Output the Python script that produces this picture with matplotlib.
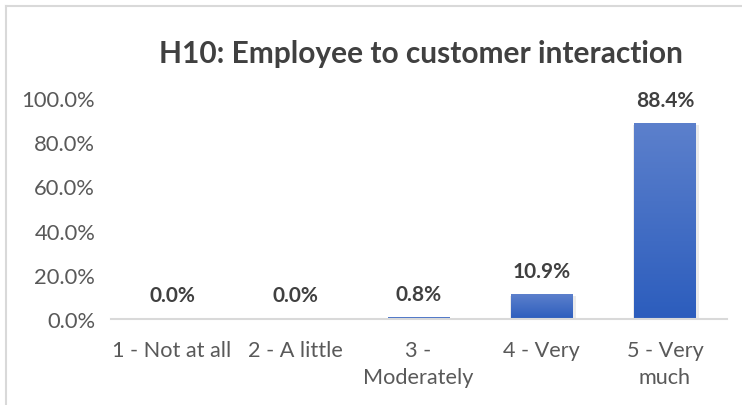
import numpy as np
import matplotlib.pyplot as plt
from matplotlib.colors import LinearSegmentedColormap
from matplotlib.lines import Line2D

# Data
categories = ["1 - Not at all", "2 - A little", "3 -\nModerately", "4 - Very", "5 - Very\nmuch"]
shares = [0.0, 0.0, 0.008, 0.109, 0.884]
y_ticks = [0.0, 0.2, 0.4, 0.6, 0.8, 1.0]
title = "H10: Employee to customer interaction"

plt.rcParams['font.family'] = ['Lato', 'DejaVu Sans']

fig = plt.figure(figsize=(7.42, 4.06), dpi=100)
ax = fig.add_axes([110.5 / 742, 86 / 406, 616 / 742, 221 / 406])

# chart border (left and top edge visible)
fig.add_artist(Line2D([6 / 742, 6 / 742], [0, 1 - 7 / 406], transform=fig.transFigure,
                      color="#d9d9d9", lw=1.5))
fig.add_artist(Line2D([6 / 742, 1], [1 - 7 / 406, 1 - 7 / 406], transform=fig.transFigure,
                      color="#d9d9d9", lw=1.5))

x = np.arange(len(categories))
width = 0.5
cmap = LinearSegmentedColormap.from_list("bar", ["#2c5dbd", "#5c80cc"])
grad = np.linspace(0, 1, 256).reshape(-1, 1)

bars = ax.bar(x, shares, width=width, color="none", edgecolor="none", zorder=2)
for b in bars:
    h = b.get_height()
    if h <= 0:
        continue
    x0 = b.get_x()
    # soft shadow only on taller bars
    if h > 0.05:
        ax.bar(b.get_x() + b.get_width() / 2 + 0.01, h, width=width + 0.03, bottom=-0.004,
               color="#000000", alpha=0.08, zorder=1)
    ax.imshow(grad, extent=(x0, x0 + b.get_width(), 0, h), origin="lower", cmap=cmap,
              aspect="auto", zorder=2)

for xi, v in zip(x, shares):
    ax.text(xi, v + 0.08, f"{v * 100:.1f}%", ha="center", va="baseline",
            fontsize=15, fontweight="bold", color="#404040")

ax.set_xlim(-0.5, len(categories) - 0.5)
ax.set_ylim(0, 1.0)
ax.set_yticks(y_ticks)
ax.set_yticklabels([f"{t * 100:.1f}%" for t in y_ticks])
ax.set_xticks(x)
ax.set_xticklabels(categories, linespacing=1.45)
ax.tick_params(axis="y", length=0, labelsize=15.8, labelcolor="#595959", pad=11)
ax.tick_params(axis="x", length=0, labelsize=15.6, labelcolor="#595959", pad=15)
for s in ["left", "right", "top"]:
    ax.spines[s].set_visible(False)
ax.spines["bottom"].set_color("#d9d9d9")
ax.spines["bottom"].set_linewidth(1.5)
ax.spines["bottom"].set_zorder(3)

fig.text(421 / 742, 1 - 54 / 406, title, ha="center", va="center",
         fontsize=21.5, fontweight="bold", color="#404040")

fig.savefig("out.png", dpi=100)
